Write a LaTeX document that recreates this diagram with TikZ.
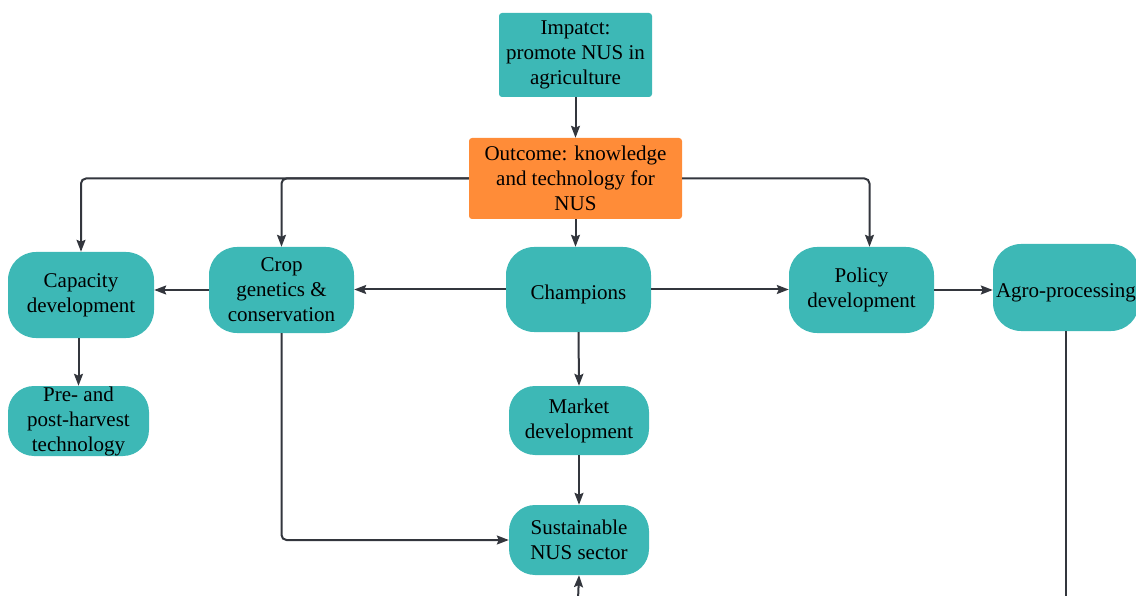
\documentclass[tikz,border=0pt]{standalone}
\usepackage{fontspec}
\setmainfont{Liberation Serif}
\usetikzlibrary{arrows.meta}
\definecolor{teal1}{HTML}{3DB8B6}
\definecolor{orange1}{HTML}{FF8C38}
\definecolor{linec}{HTML}{33363D}
\begin{document}
\begin{tikzpicture}[x=1pt,y=-1pt,
  box/.style={fill=teal1,draw=none,align=center,font=\fontsize{21}{25}\selectfont,inner sep=0pt},
  sq/.style={box,rounded corners=3pt},
  pill/.style={box,rounded corners=28pt},
  conn/.style={draw=linec,line width=2pt,rounded corners=5pt,-{Stealth[length=12pt,width=9pt,inset=2pt]}},
  plain/.style={draw=linec,line width=2pt}]
\useasboundingbox (0,0) rectangle (1136,596);
\clip (0,0) rectangle (1136,596);
\node[sq,minimum width=153pt,minimum height=84pt] (impact) at (575.5,55) {Impatct:\\promote NUS in\\agriculture};
\node[sq,fill=orange1,minimum width=213pt,minimum height=81pt] (outcome) at (575.5,178.5) {Outcome: knowledge\\and technology for\\NUS};
\node[pill,minimum width=146pt,minimum height=86pt] (capacity) at (81,295) {Capacity\\development};
\node[pill,minimum width=145pt,minimum height=86pt] (crop) at (281.5,290) {Crop\\genetics \&\\conservation};
\node[pill,minimum width=145pt,minimum height=85pt,text depth=0pt] (champ) at (578.5,289.5) {\raisebox{-5pt}{Champions}};
\node[pill,minimum width=145pt,minimum height=86pt] (policy) at (861.5,290) {Policy\\development};
\node[pill,minimum width=146pt,minimum height=87pt,text depth=0pt] (agro) at (1066,287.5) {\raisebox{-6pt}{Agro-processing}};
\node[pill,minimum width=141pt,minimum height=70pt,rounded corners=26pt] (pre) at (78.5,421) {Pre- and\\post-harvest\\technology};
\node[pill,minimum width=140pt,minimum height=69pt,rounded corners=26pt] (market) at (579,420.5) {Market\\development};
\node[pill,minimum width=140pt,minimum height=70pt,rounded corners=26pt] (sust) at (579,540) {Sustainable\\NUS sector};
\coordinate (bot1) at (578,600);
\coordinate (bot2) at (1066,600);
\draw[conn] (impact) -- (outcome);
\draw[conn] (outcome.west) -| (capacity.north);
\draw[conn] (outcome.west) -| (crop.north);
\draw[conn] (outcome.east) -| ([xshift=8pt]policy.north);
\draw[conn] (outcome.south) -- (outcome.south |- champ.north);
\draw[conn] (champ.west) -- (champ.west -| crop.east);
\draw[conn] (crop.west) -- (crop.west -| capacity.east);
\draw[conn] (champ.east) -- (champ.east -| policy.west);
\draw[conn] (policy.east) -- (policy.east -| agro.west);
\draw[conn] (capacity.south -| pre.north) -- (pre.north);
\draw[conn] (champ.south) -- (market.north);
\draw[conn] (market.south) -- (sust.north);
\draw[conn] (crop.south) |- (sust.west);
\draw[plain] (agro.south) -- (bot2);
\draw[conn] (bot1) -- (sust.south);
\end{tikzpicture}
\end{document}
